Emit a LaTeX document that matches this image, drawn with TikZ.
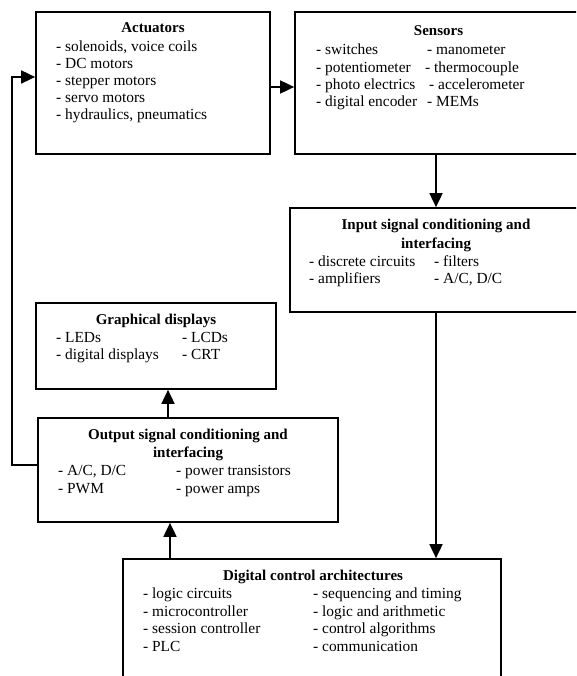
\documentclass[tikz,border=0pt]{standalone}
\usepackage{fontspec}
\setmainfont{Liberation Serif}
\usetikzlibrary{arrows.meta}
\begin{document}
\begin{tikzpicture}[x=1pt,y=-1pt,
  box/.style={draw,line width=1.7pt,rectangle,inner sep=0pt},
  ttl/.style={inner sep=0pt,anchor=mid,font=\fontsize{15}{17}\selectfont\bfseries},
  itm/.style={inner sep=0pt,anchor=mid west,font=\fontsize{15.4}{17}\selectfont},
  arr/.style={line width=1.7pt,-{Triangle[length=14pt,width=13pt]}},
  conn/.style={line width=1.7pt}]
\useasboundingbox (0,0) rectangle (576,676);
\clip (0,0) rectangle (576,676);
% boxes
\node[box,minimum width=234pt,minimum height=142pt] (act) at (153,83) {};
\node[box,minimum width=310pt,minimum height=142pt] (sen) at (450,83) {};
\node[box,minimum width=315pt,minimum height=104pt] (inp) at (447.5,260) {};
\node[box,minimum width=240pt,minimum height=86pt] (gra) at (156,346) {};
\node[box,minimum width=300pt,minimum height=104pt] (out) at (188,470) {};
\node[box,minimum width=378pt,minimum height=150pt] (dig) at (312,634) {};
% Actuators text
\node[ttl] (a0) at (153,30) {Actuators};
\node[itm] (a1) at (56,49) {- solenoids, voice coils};
\node[itm] (a2) at (56,66) {- DC motors};
\node[itm] (a3) at (56,83) {- stepper motors};
\node[itm] (a4) at (56,100) {- servo motors};
\node[itm] (a5) at (56,117) {- hydraulics, pneumatics};
% Sensors text
\node[ttl] (s0) at (438.5,33) {Sensors};
\node[itm] (s1) at (316,52) {- switches};
\node[itm] (s2) at (316,70) {- potentiometer};
\node[itm] (s3) at (316,87) {- photo electrics};
\node[itm] (s4) at (316,104) {- digital encoder};
\node[itm] (s5) at (427,52) {- manometer};
\node[itm] (s6) at (425,70) {- thermocouple};
\node[itm] (s7) at (429,87) {- accelerometer};
\node[itm] (s8) at (427,104) {- MEMs};
% Input text
\node[ttl] (i0) at (436,227) {Input signal conditioning and};
\node[ttl] (i1) at (436,246) {interfacing};
\node[itm] (i2) at (309,264) {- discrete circuits};
\node[itm] (i3) at (309,281) {- amplifiers};
\node[itm] (i4) at (434,264) {- filters};
\node[itm] (i5) at (434,281) {- A/C, D/C};
% Graphical text
\node[ttl] (g0) at (156,322) {Graphical displays};
\node[itm] (g1) at (56,340) {- LEDs};
\node[itm] (g2) at (56,357) {- digital displays};
\node[itm] (g3) at (182,340) {- LCDs};
\node[itm] (g4) at (182,357) {- CRT};
% Output text
\node[ttl] (o0) at (188,437) {Output signal conditioning and};
\node[ttl] (o1) at (188,455) {interfacing};
\node[itm] (o2) at (58,473) {- A/C, D/C};
\node[itm] (o3) at (58,491) {- PWM};
\node[itm] (o4) at (176,473) {- power transistors};
\node[itm] (o5) at (176,491) {- power amps};
% Digital text
\node[ttl] (d0) at (313,578) {Digital control architectures};
\node[itm] (d1) at (143,596) {- logic circuits};
\node[itm] (d2) at (143,614) {- microcontroller};
\node[itm] (d3) at (143,631) {- session controller};
\node[itm] (d4) at (143,649) {- PLC};
\node[itm] (d5) at (313,596) {- sequencing and timing};
\node[itm] (d6) at (313,614) {- logic and arithmetic};
\node[itm] (d7) at (313,631) {- control algorithms};
\node[itm] (d8) at (313,649) {- communication};
% connectors
\draw[arr] ([yshift=-4pt]act.east) -- ([yshift=-4pt]sen.west);
\draw[arr] ([xshift=-14pt]sen.south) -- ([xshift=-14pt]sen.south |- inp.north);
\draw[arr] ([xshift=-11.5pt]inp.south) -- ([xshift=-11.5pt]inp.south |- dig.north);
\draw[arr] ([xshift=-18pt]out.south |- dig.north) -- ([xshift=-18pt]out.south);
\draw[arr] ([xshift=12pt]gra.south |- out.north) -- ([xshift=12pt]gra.south);
\coordinate (fb) at (12,77);
\draw[arr] ([yshift=5pt]out.west) -| (fb) -- (act.west |- fb);
\end{tikzpicture}
\end{document}
